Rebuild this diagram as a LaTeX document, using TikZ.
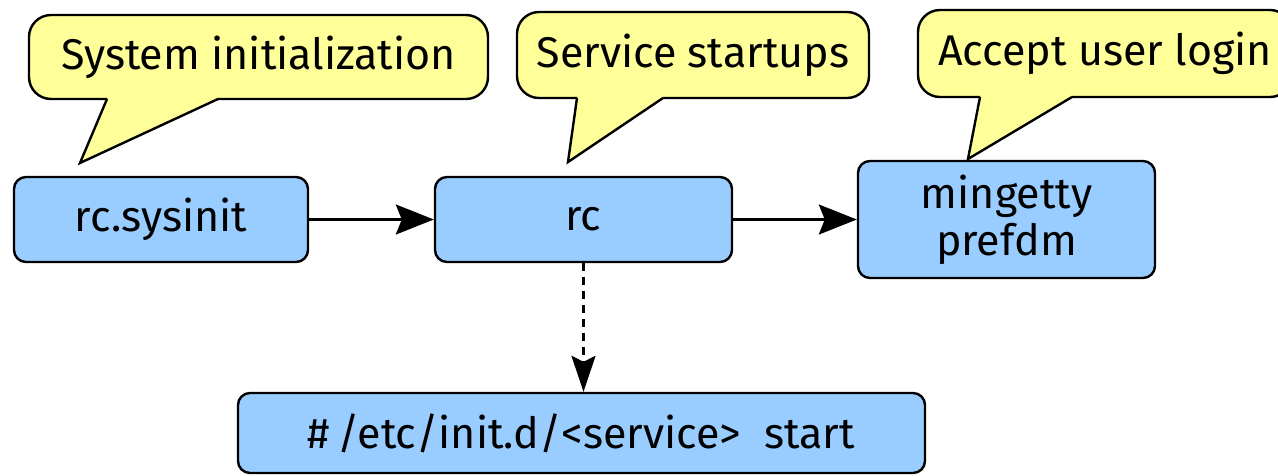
\documentclass[tikz,border=0pt]{standalone}
\usepackage{fontspec}
\setmainfont{Fira Sans}
\usetikzlibrary{arrows.meta, positioning}
\definecolor{tipyellow}{RGB}{255,255,153}
\definecolor{boxblue}{RGB}{153,204,255}

\begin{document}
\begin{tikzpicture}[x=1pt, y=-1pt,
    proc/.style={draw, line width=2.4pt, fill=boxblue, rounded corners=12pt, align=center, font=\fontsize{43}{47}\selectfont},
    bubble/.style={draw, line width=2.4pt, fill=tipyellow, rounded corners=22pt, font=\fontsize{43}{47}\selectfont},
    flow/.style={line width=2.4pt, -{Stealth[length=38pt, width=30pt, inset=6pt]}}]
                \useasboundingbox (0,0) rectangle (1278,475);
                \clip (0,0) rectangle (1278,475);

                % Boot stages
                \node[proc, minimum width=294pt, minimum height=85pt] (sysinit) at (161,219.5) {rc.sysinit};
                \node[proc, minimum width=297pt, minimum height=85pt] (rc) at (583.5,219.5) {rc};
                \node[proc, minimum width=297pt, minimum height=117pt] (getty) at (1006.5,219.5) {mingetty\\prefdm};
                \node[proc, minimum width=687pt, minimum height=80pt] (cmd) at (581.5,433) {\#\,/etc/init.d/<service>\ \ start};

                \draw[flow] (sysinit) -- (rc);
                \draw[flow] (rc) -- (getty);
                \draw[flow, dash pattern=on 8pt off 6pt, -{Stealth[length=36pt, width=24pt, inset=6pt]}] (rc.south) -- (rc.south |- cmd.north);

                % Callouts
                \node[bubble, minimum width=459pt, minimum height=84pt] (initTip) at (258.5,57) {System initialization};
                \node[bubble, minimum width=352pt, minimum height=86pt] (startTip) at (693,55) {Service startups};
                \node[bubble, minimum width=374pt, minimum height=87pt] (loginTip) at (1105,53.5) {Accept user login};

                \foreach \by/\a/\b/\tx/\ty in {99/107/218/80/163, 98/577/663/568/162, 97/980/1072/968/159} {
                    \fill[tipyellow] (\a+1.5,\by-3) -- (\b-1.5,\by-3) -- (\b,\by) -- (\tx,\ty) -- (\a,\by) -- cycle;
                    \draw[line width=2.4pt, line join=miter] (\a,\by) -- (\tx,\ty) -- (\b,\by);
                }

            \end{tikzpicture}
\end{document}
